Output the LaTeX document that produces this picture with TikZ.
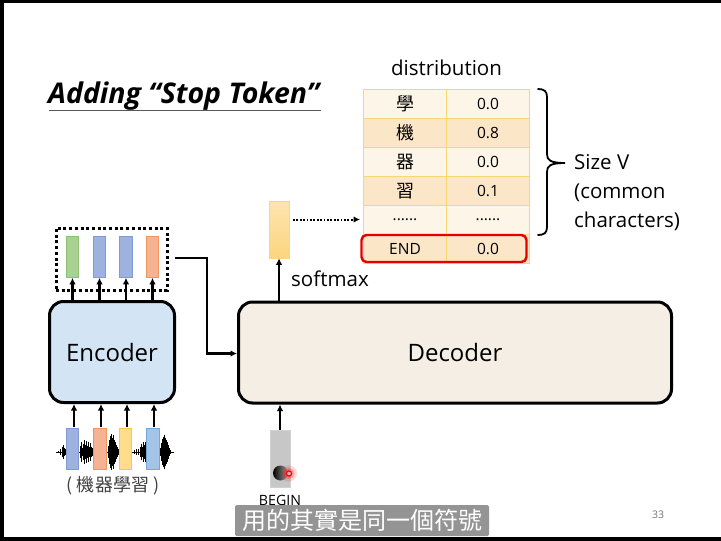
\documentclass[tikz,border=0pt]{standalone}
\usepackage{fontspec}
\setmainfont{Open Sans}
\newfontfamily\cjk{Noto Sans CJK TC}
\usetikzlibrary{arrows.meta}
\definecolor{encfill}{HTML}{D3E5F5}
\definecolor{decfill}{HTML}{F5EEE4}
\definecolor{cellA}{HTML}{FDF5E8}
\definecolor{cellB}{HTML}{FCE6C8}
\definecolor{cellline}{HTML}{F8D675}
\tikzset{
  conn/.style={draw=black,line width=2.1pt,-{Latex[length=6.5pt,width=6.5pt]}},
  block/.style={draw=black,line width=3pt,rounded corners=14pt},
  vec/.style={minimum width=12.5pt,minimum height=41pt,line width=.6pt,inner sep=0pt},
  vecb/.style={vec,draw=HTMLb,fill=HTMLbf},
  vecg/.style={vec,draw=HTMLg,fill=HTMLgf},
  veco/.style={vec,draw=HTMLo,fill=HTMLof},
  vecy/.style={vec,draw=HTMLy,fill=HTMLyf},
  veclb/.style={vec,draw=HTMLl,fill=HTMLlf},
  cell/.style={draw=cellline,line width=.8pt,minimum width=83pt,minimum height=29pt,inner sep=0pt,font=\fontsize{15.5}{18}\selectfont},
  cellC/.style={cell,font=\fontsize{18}{20}\cjk},
  lab/.style={inner sep=0pt,font=\fontsize{20.5}{24}\selectfont},
  big/.style={font=\fontsize{24}{28}\selectfont}
}
\definecolor{HTMLb}{HTML}{7F9BD6}
\definecolor{HTMLbf}{HTML}{9DB2DE}
\definecolor{HTMLg}{HTML}{8CC273}
\definecolor{HTMLgf}{HTML}{AAD193}
\definecolor{HTMLo}{HTML}{F0955C}
\definecolor{HTMLof}{HTML}{F6B394}
\definecolor{HTMLy}{HTML}{FCC93C}
\definecolor{HTMLyf}{HTML}{FFDD8A}
\definecolor{HTMLl}{HTML}{72A8DC}
\definecolor{HTMLlf}{HTML}{A3C4E6}
\definecolor{softtop}{HTML}{FDE5B0}
\definecolor{softbot}{HTML}{FCD57F}
\begin{document}
\begin{tikzpicture}[x=1pt,y=-1pt]
\useasboundingbox (0,0) rectangle (721,541);
\fill[black] (0,0) rectangle (721,541);
\fill[white] (4,3) rectangle (721,537);
% title
\node[inner sep=0pt,anchor=base west,font=\fontsize{28.5}{32}\selectfont\bfseries\itshape] (title) at (48,103) {Adding “Stop Token”};
\coordinate (ta) at (49,110);
\coordinate (tb) at (321,110);
\draw[line width=.8pt,black!65] (ta) -- (tb);
% table
\node[cellC,fill=cellA] (c1) at (405,103.5) {學};
\node[cell,fill=cellA] (v1) at (488,103.5) {0.0};
\node[cellC,fill=cellB] (c2) at (405,132.7) {機};
\node[cell,fill=cellB] (v2) at (488,132.7) {0.8};
\node[cellC,fill=cellA] (c3) at (405,162) {器};
\node[cell,fill=cellA] (v3) at (488,162) {0.0};
\node[cellC,fill=cellB] (c4) at (405,191.3) {習};
\node[cell,fill=cellB] (v4) at (488,191.3) {0.1};
\node[cell,fill=cellA] (c5) at (405,220) {......};
\node[cell,fill=cellA] (v5) at (488,220) {......};
\node[cell,fill=cellB] (c6) at (405,249) {END};
\node[cell,fill=cellB] (v6) at (488,249) {0.0};
\node[draw=red!90!black,line width=2.4pt,rounded corners=5pt,minimum width=165pt,minimum height=27pt,inner sep=0pt] (endbox) at (444,248.5) {};
\node[lab,anchor=base] (dist) at (446.5,75.5) {distribution};
% brace
\draw[line width=1.8pt,line cap=round] (538,89) .. controls (544,89) and (547,91) .. (547,97) -- (547,154) .. controls (547,160) and (550,163) .. (565,163) .. controls (550,163) and (547,166) .. (547,172) -- (547,227) .. controls (547,233) and (544,235) .. (538,235);
\node[lab,anchor=base west] (s1) at (574,169) {Size V};
\node[lab,anchor=base west] (s2) at (574,198) {(common};
\node[lab,anchor=base west] (s3) at (574,227) {characters)};
% softmax vector
\node[minimum width=20pt,minimum height=57pt,inner sep=0pt,draw=softbot,line width=.6pt,top color=softtop,bottom color=softbot] (sv) at (279,229.5) {};
\coordinate (ds) at (293,219.5);
\coordinate (de) at (360,219.5);
\draw[line width=2pt,dash pattern=on 1.8pt off 1.6pt,-{Latex[length=6.5pt,width=6.5pt]}] (ds) -- (de);
% blocks
\node[block,big,fill=encfill,minimum width=125pt,minimum height=101pt,inner sep=0pt] (enc) at (112,352) {Encoder};
\node[block,big,fill=decfill,minimum width=433pt,minimum height=101pt,inner sep=0pt] (dec) at (455,352.5) {Decoder};
% encoder outputs
\node[draw=black,line width=3pt,dash pattern=on 3pt off 2.7pt,minimum width=111pt,minimum height=62pt,inner sep=0pt] (dots) at (111.5,259) {};
\node[vecg] (o1) at (72.5,257) {};
\node[vecb] (o2) at (99.5,257) {};
\node[vecb] (o3) at (126,257) {};
\node[veco] (o4) at (152.5,257) {};
\foreach \o in {o1,o2,o3,o4}{\draw[conn] (enc.north -| \o.south) -- (\o.south);}
% arrow to decoder
\coordinate (g1) at (175,258);
\coordinate (g2) at (207,258);
\coordinate (g3) at (207,353.5);
\draw[conn] (g1) -- (g2) -- (g3) -- (dec.west |- g3);
% softmax
\draw[conn] (dec.north -| sv.south) -- (sv.south);
\node[lab,anchor=base west] (sm) at (291,286) {softmax};
% waveform
\coordinate (wl) at (56,452);
\coordinate (wr) at (174,452);
\draw[line width=1pt] (wl) -- (wr);
\foreach \x/\h in {58/1,60/3,62/5,63/7,64/4,65/3,
  80/6,81/10,82/4,83/8,84/12,85/7,86/11,87/6,88/10,89/5,90/9,91/5,92/4,
  108/6,109/12,110/16,111/18,112/14,113/17,114/12,115/10,116/7,117/5,118/3,
  134/2,136/3,138/3,140/5,141/8,142/5,143/10,144/7,145/10,146/6,
  160/4,161/9,162/13,163/15,164/17,165/14,166/12,167/10,168/7,169/4,170/2}
  {\draw[line width=.8pt] (\x,452-\h) -- (\x,452+\h);}
% input vectors
\node[vecb] (i1) at (72.5,449) {};
\node[veco] (i2) at (100,449) {};
\node[vecy] (i3) at (125.5,449) {};
\node[veclb] (i4) at (153,449) {};
\coordinate (a1) at (74,427);
\coordinate (a2) at (101,427);
\coordinate (a3) at (127,427);
\coordinate (a4) at (154,427);
\foreach \i in {a1,a2,a3,a4}{\draw[conn] (\i) -- (enc.south -| \i);}
\node[inner sep=0pt,font=\fontsize{18}{20}\cjk,text=black!75] (zh) at (113,486) {( 機器學習 )};
% begin vector
\node[minimum width=20pt,minimum height=57pt,inner sep=0pt,draw=black!18,line width=.6pt,fill=black!22] (bv) at (280,458.5) {};
\draw[conn] (bv.north) -- (dec.south -| bv.north);
\node[inner sep=0pt,font=\fontsize{14.2}{16}\selectfont,anchor=base] (bl) at (280,505) {BEGIN};
% cursor
\shade[left color=black,right color=black!35] (280.5,473) circle (7.5pt);
\fill[red,opacity=.15] (289,473.5) circle (8pt);
\fill[red,opacity=.25] (289,473.5) circle (5.5pt);
\draw[red,line width=1.2pt,fill=white!70!red] (289,473.5) circle (2.6pt);
% subtitle
\node[fill=black!42,rounded corners=1.5pt,text=white,inner sep=0pt,minimum width=254pt,minimum height=31pt,font=\fontsize{24}{26}\cjk] (sub) at (362,520.5) {用的其實是同一個符號};
\node[inner sep=0pt,font=\fontsize{10.5}{12}\selectfont,text=black!55] (pg) at (658,515) {33};
\end{tikzpicture}
\end{document}
